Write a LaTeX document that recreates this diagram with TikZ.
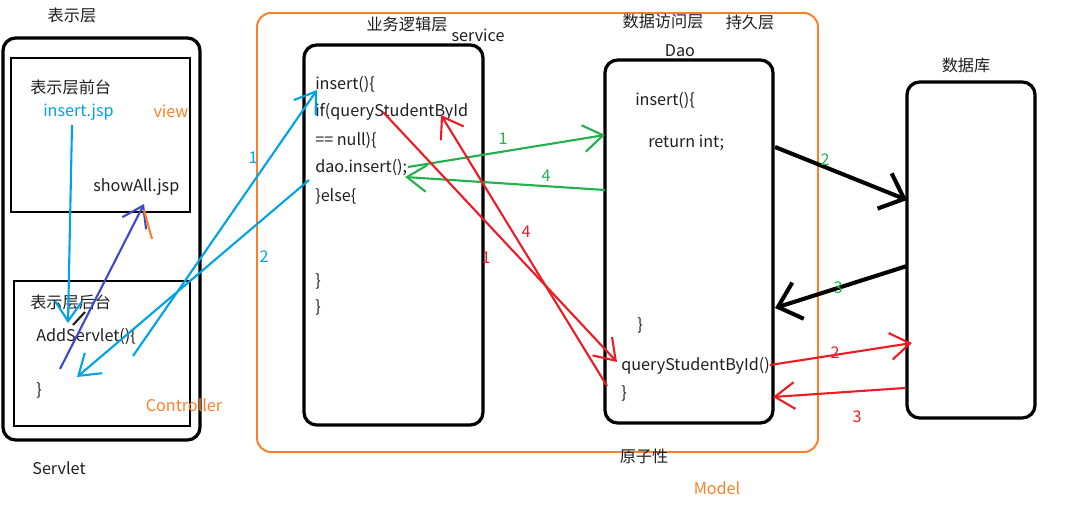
\documentclass[tikz,border=0pt]{standalone}
\usepackage{fontspec}
\setmainfont{Noto Sans CJK SC}
\usepackage{tikz}
\usetikzlibrary{arrows.meta}

\definecolor{pblue}{RGB}{0,162,232}
\definecolor{pred}{RGB}{237,28,36}
\definecolor{pgreen}{RGB}{34,177,76}
\definecolor{porange}{RGB}{255,127,39}
\definecolor{pindigo}{RGB}{63,72,204}
\definecolor{ink}{RGB}{30,30,30}

\tikzset{
  layerbox/.style={line width=2.3pt,rounded corners=9pt},
  innerbox/.style={line width=1.7pt},
  modelbox/.style={porange,line width=1.4pt,rounded corners=10pt},
  flow/.style={line width=1.5pt,-{Straight Barb[length=14pt,width=19pt]}},
  dbflow/.style={line width=2.9pt,-{Straight Barb[length=15pt,width=27pt]}},
  txt/.style={text=ink,inner sep=0pt,font=\fontsize{11.5}{13}\selectfont},
  code/.style={txt,anchor=west},
  num/.style={inner sep=0pt,font=\fontsize{11.5}{13}\selectfont}
}

\begin{document}
\begin{tikzpicture}[x=0.025cm,y=-0.025cm]
\useasboundingbox (0,0) rectangle (1071,510);

\draw[layerbox] (3,38) rectangle (200,440);
\draw[innerbox] (11,58) rectangle (190,212);
\draw[innerbox] (14,281) rectangle (190,426);
\draw[modelbox] (257,13) rectangle (818,452);
\draw[layerbox] (304,45) rectangle (483,425);
\draw[layerbox] (605,60) rectangle (773,423);
\draw[layerbox] (907,82) rectangle (1035,418);

\node[txt] (viewlayer) at (72,15) {表示层};
\node[code] (front) at (30,87) {表示层前台};
\node[code,text=pblue] (insertjsp) at (43,112) {insert.jsp};
\node[txt,text=porange] (viewtag) at (171,111) {view};
\node[code] (showall) at (93,187) {showAll.jsp};
\node[code] (back) at (30,302) {表示层后台};
\node[code] (addservlet) at (36,336) {AddServlet()\{};
\node[code] (addend) at (36,390) {\}};
\node[txt,text=porange] (ctrltag) at (184,405) {Controller};
\node[txt] (servlet) at (59,468) {Servlet};

\node[txt] (bizlayer) at (407,24) {业务逻辑层};
\node[txt] (service) at (478,35) {service};
\node[code] (svinsert) at (315,84) {insert()\{};
\node[code] (svif) at (315,112) {if(queryStudentById};
\node[code] (svnull) at (315,140) {== null)\{};
\node[code] (svdao) at (315,167) {dao.insert();};
\node[code] (svelse) at (315,196) {\}else\{};
\node[code] (svend1) at (315,281) {\}};
\node[code] (svend2) at (315,307) {\}};

\node[txt] (datalayer) at (663,21) {数据访问层};
\node[txt] (persist) at (750,22) {持久层};
\node[txt] (dao) at (680,51) {Dao};
\node[code] (daoinsert) at (635,100) {insert()\{};
\node[code] (daoreturn) at (648,143) {return int;};
\node[code] (daoend1) at (637,325) {\}};
\node[code] (daoquery) at (621,366) {queryStudentById()};
\node[code] (daoend2) at (621,393) {\}};
\node[txt] (atomic) at (644,456) {原子性};
\node[txt,text=porange] (modeltag) at (717,488) {Model};

\node[txt] (dblayer) at (966,65) {数据库};

\coordinate (bluea) at (133,356);
\coordinate (blueb) at (317,90);
\coordinate (bluec) at (309,180);
\coordinate (blued) at (77,377);
\coordinate (jspa) at (72,125);
\coordinate (jspb) at (68,323);
\coordinate (showa) at (60,369);
\coordinate (showb) at (144,204);
\coordinate (greena) at (408,167);
\coordinate (greenb) at (605,135);
\coordinate (greenc) at (605,190);
\coordinate (greend) at (405,177);
\coordinate (reda) at (383,112);
\coordinate (redb) at (617,362);
\coordinate (redc) at (607,386);
\coordinate (redd) at (441,115);
\coordinate (blacka) at (775,147);
\coordinate (blackb) at (907,200);
\coordinate (blackc) at (907,266);
\coordinate (blackd) at (775,308);
\coordinate (rede) at (770,365);
\coordinate (redf) at (912,343);
\coordinate (redg) at (905,388);
\coordinate (redh) at (773,397);

\draw[flow,pblue] (jspa) -- (jspb);
\draw[flow,pindigo] (showa) -- (showb);
\draw[porange,line width=1.5pt] (144,210) -- (152,239);
\draw[ink,line width=1.5pt] (73,325) -- (85,312);
\draw[flow,pblue] (bluea) -- (blueb);
\draw[flow,pblue] (bluec) -- (blued);
\draw[flow,pgreen] (greena) -- (greenb);
\draw[flow,pgreen] (greenc) -- (greend);
\draw[flow,pred] (reda) -- (redb);
\draw[flow,pred] (redc) -- (redd);
\draw[dbflow] (blacka) -- (blackb);
\draw[dbflow] (blackc) -- (blackd);
\draw[flow,pred] (rede) -- (redf);
\draw[flow,pred] (redg) -- (redh);

\node[num,text=pblue] at (253,158) {1};
\node[num,text=pblue] at (264,257) {2};
\node[num,text=pgreen] at (503,139) {1};
\node[num,text=pgreen] at (546,176) {4};
\node[num,text=pred] at (486,258) {1};
\node[num,text=pred] at (526,232) {4};
\node[num,text=pgreen] at (825,160) {2};
\node[num,text=pgreen] at (838,288) {3};
\node[num,text=pred] at (835,353) {2};
\node[num,text=pred] at (857,417) {3};
\end{tikzpicture}
\end{document}
